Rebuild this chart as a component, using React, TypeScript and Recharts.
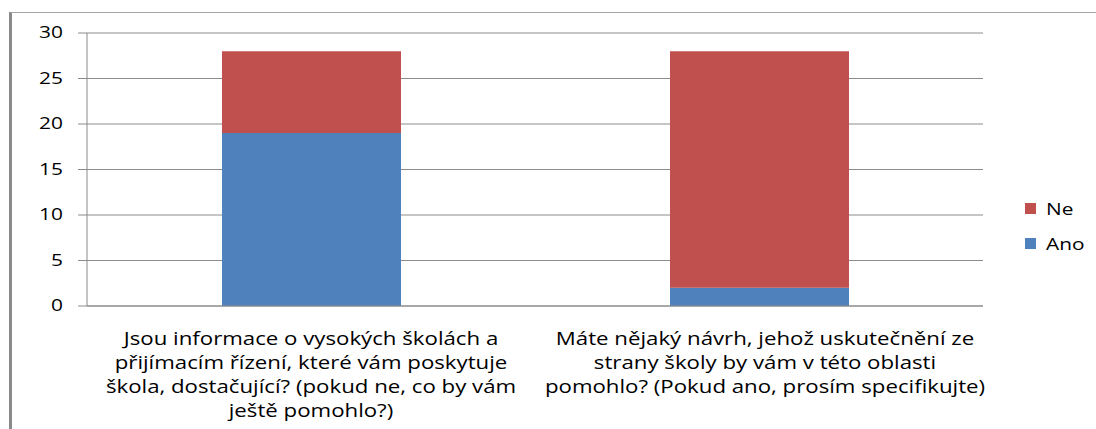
import { BarChart, Bar, XAxis, YAxis, CartesianGrid } from 'recharts';

// Otázky z ankety (kategorie na ose X)
const questions = [
  'Jsou informace o vysokých školách a přijímacím řízení, které vám poskytuje škola, dostačující? (pokud ne, co by vám ještě pomohlo?)',
  'Máte nějaký návrh, jehož uskutečnění ze strany školy by vám v této oblasti pomohlo? (Pokud ano, prosím specifikujte)',
];
// zalomení popisků tak, jak je má původní graf
const questionLines = [
  ['Jsou informace o vysokých školách a', 'přijímacím řízení, které vám poskytuje', 'škola, dostačující? (pokud ne, co by vám', 'ještě pomohlo?)'],
  ['Máte nějaký návrh, jehož uskutečnění ze', 'strany školy by vám v této oblasti', 'pomohlo? (Pokud ano, prosím specifikujte)'],
];
const ano = [19, 2];
const ne = [9, 26];
const yTicks = [0, 5, 10, 15, 20, 25, 30];

const BLUE = '#4F81BD';
const RED = '#C0504D';
const GRID = '#8C8C8C';
const FONT = '"Open Sans", "DejaVu Sans", sans-serif';
// původní obrázek je vodorovně roztažený — písmo trochu natáhneme
const STRETCH = 1.27;
// druhý popisek je v originále mírně posunutý doprava
const LABEL_SHIFT = [0, 6];

const data = questions.map((q, i) => ({ q, Ano: ano[i], Ne: ne[i] }));

function QuestionTick({ x, y, payload }: any) {
  const lines = questionLines[payload.index] ?? [payload.value];
  const shift = LABEL_SHIFT[payload.index] ?? 0;
  return (
    <g transform={`translate(${x + shift},${y}) scale(${STRETCH},1)`}>
      {lines.map((l, i) => (
        <text key={i} x={0} y={31 + i * 24} textAnchor="middle" fill="#000" fontSize={17.5} fontFamily={FONT}>
          {l}
        </text>
      ))}
    </g>
  );
}

function ValueTick({ x, y, payload }: any) {
  return (
    <g transform={`translate(${x},${y}) scale(1.35,1)`}>
      <text x={0} y={0} dy={5} textAnchor="end" fill="#000" fontSize={15.5} fontFamily={FONT}>
        {payload.value}
      </text>
    </g>
  );
}

function SideLegend() {
  // Excel řadí legendu skládaného grafu odshora: Ne, Ano
  const items = [
    { name: 'Ne', color: RED },
    { name: 'Ano', color: BLUE },
  ];
  return (
    <div style={{ position: 'absolute', left: 1025, top: 191 }}>
      {items.map((it) => (
        <div key={it.name} style={{ display: 'flex', alignItems: 'center', height: 35 }}>
          <span style={{ width: 11, height: 11, background: it.color, marginRight: 10 }} />
          <span style={{
            fontSize: 16, fontFamily: FONT, color: '#000',
            display: 'inline-block', transform: `scaleX(1.3)`, transformOrigin: 'left center',
          }}>{it.name}</span>
        </div>
      ))}
    </div>
  );
}

export default function App() {
  return (
    <div style={{ position: 'fixed', left: 0, top: 0, width: 1096, height: 429, background: '#fff', overflow: 'hidden' }}>
      <div style={{
        position: 'absolute', left: 9, top: 12, right: -4, bottom: -4,
        borderLeft: '3px solid #8A8A8A', borderTop: '1px solid #A6A6A6',
      }} />
      <BarChart
        width={1096}
        height={429}
        data={data}
        margin={{ top: 33, right: 113, left: 0, bottom: 10 }}
        barSize={179}
      >
        <CartesianGrid stroke={GRID} vertical={false} />
        <XAxis
          dataKey="q"
          interval={0}
          height={113}
          stroke={GRID}
          tickLine={false}
          tick={<QuestionTick />}
        />
        <YAxis
          width={87}
          domain={[0, 30]}
          ticks={yTicks}
          stroke={GRID}
          tickSize={9}
          tickMargin={15}
          tick={<ValueTick />}
        />
        <Bar dataKey="Ano" stackId="a" fill={BLUE} isAnimationActive={false} />
        <Bar dataKey="Ne" stackId="a" fill={RED} isAnimationActive={false} />
      </BarChart>
      <SideLegend />
    </div>
  );
}
